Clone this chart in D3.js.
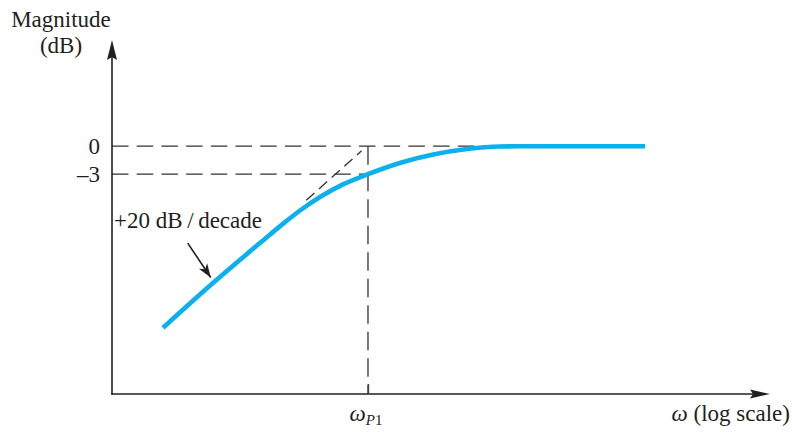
<!DOCTYPE html>
<html>
<head>
<meta charset="utf-8">
<script src="https://cdn.jsdelivr.net/npm/d3@7"></script>
<style>
  html, body { margin: 0; padding: 0; background: #ffffff; }
  svg { display: block; }
  text { font-family: "Liberation Serif", "Times New Roman", serif; fill: #231f20; }
</style>
</head>
<body>
<svg id="chart" width="792" height="432"></svg>
<script>
// ---- data ----
const omega        = [0.1, 0.173, 0.297, 0.394, 0.466, 0.583, 0.755, 1, 1.43, 2.08, 3.04, 4.40, 6.17, 22.5];
const magnitudeDb  = [-19.5, -14.8, -10.4, -8.15, -6.9, -5.45, -4.1, -3.0, -1.8, -0.89, -0.3, -0.03, 0, 0];
const asymptoteOmega = [0.5, 0.93];
const asymptoteDb    = [-5.8, -0.5];
const yTickValues = [0, -3];
const yTickLabels = ["0", "\u20133"];
const poleOmega = 1;
const zeroLineEndOmega = 4.4;
const slopeLabel = "+20 dB\u2009/\u2009decade";
const arrowTail = [0.132, -10.4];
const arrowTip  = [0.171, -14.1];

// ---- layout ----
const W = 792, H = 432;
const svg = d3.select("#chart");
svg.append("rect").attr("width", W).attr("height", H).attr("fill", "#fff");

const x = d3.scaleLog().domain([0.0564, 89.4]).range([112, 768]);
const y = d3.scaleLinear().domain([-26.6, 11.4]).range([394, 40]);

const ink = "#231f20";
const blue = "#0bb0ee";
const [x0, x1] = x.range();
const [yBottom, yTop] = y.range();

// dashed guide lines
const dashG = svg.append("g").attr("stroke", "#333").attr("stroke-width", 1.3).attr("fill", "none");
dashG.append("line")
  .attr("x1", x0).attr("x2", x(zeroLineEndOmega))
  .attr("y1", y(0)).attr("y2", y(0))
  .attr("stroke-dasharray", "16.5,8.2");
dashG.append("line")
  .attr("x1", x0).attr("x2", x(poleOmega))
  .attr("y1", y(-3)).attr("y2", y(-3))
  .attr("stroke-dasharray", "16.5,8.2");
dashG.append("line")
  .attr("x1", x(poleOmega)).attr("x2", x(poleOmega))
  .attr("y1", y(0)).attr("y2", yBottom)
  .attr("stroke-dasharray", "18.5,8");
dashG.append("line")
  .attr("x1", x(asymptoteOmega[0])).attr("x2", x(asymptoteOmega[1]))
  .attr("y1", y(asymptoteDb[0])).attr("y2", y(asymptoteDb[1]))
  .attr("stroke-dasharray", "11,6");

// response curve
const pts = omega.map((w, i) => [w, magnitudeDb[i]]);
const line = d3.line().x(d => x(d[0])).y(d => y(d[1])).curve(d3.curveMonotoneX);
svg.append("path").datum(pts)
  .attr("d", line)
  .attr("fill", "none")
  .attr("stroke", blue)
  .attr("stroke-width", 4.6)
  .attr("stroke-linecap", "butt");

// axes lines
svg.append("line").attr("x1", x0).attr("x2", x0).attr("y1", yBottom + 0.8).attr("y2", yTop + 10)
  .attr("stroke", ink).attr("stroke-width", 1.6);
svg.append("line").attr("x1", x0 - 0.8).attr("x2", x1 - 10).attr("y1", yBottom).attr("y2", yBottom)
  .attr("stroke", ink).attr("stroke-width", 1.6);
// arrow heads
svg.append("path")
  .attr("d", `M${x0},${yTop} L${x0 + 5},${yTop + 20} L${x0},${yTop + 17} L${x0 - 5},${yTop + 20} Z`)
  .attr("fill", ink);
svg.append("path")
  .attr("d", `M${x1 + 2},${yBottom} L${x1 - 18},${yBottom - 4.5} L${x1 - 15},${yBottom} L${x1 - 18},${yBottom + 4.5} Z`)
  .attr("fill", ink);

// y-axis tick labels via d3 axis
const yAxis = d3.axisLeft(y).tickValues(yTickValues)
  .tickFormat((d, i) => yTickLabels[i]).tickSize(0).tickPadding(12);
const gy = svg.append("g").attr("transform", `translate(${x0},0)`).call(yAxis);
gy.select(".domain").remove();
gy.selectAll("text").attr("font-family", "Liberation Serif, serif").attr("font-size", 23).attr("fill", ink);

// x-axis tick at the pole
const xAxis = d3.axisBottom(x).tickValues([poleOmega]).tickSizeInner(-10).tickSizeOuter(0).tickFormat("");
const gx = svg.append("g").attr("transform", `translate(0,${yBottom})`).call(xAxis);
gx.select(".domain").remove();
gx.selectAll(".tick line").attr("stroke", "#444").attr("stroke-width", 1.4);

// pole label
const pl = svg.append("text").attr("x", x(poleOmega) - 2).attr("y", 421)
  .attr("text-anchor", "middle").attr("font-size", 23);
pl.append("tspan").attr("font-style", "italic").text("\u03c9");
pl.append("tspan").attr("font-style", "italic").attr("font-size", 15).attr("dy", 4).text("P");
pl.append("tspan").attr("font-size", 15).text("1");

// x axis title
const xt = svg.append("text").attr("x", 790).attr("y", 421).attr("text-anchor", "end").attr("font-size", 23);
xt.append("tspan").attr("font-style", "italic").text("\u03c9");
xt.append("tspan").text(" (log scale)");

// y axis title
svg.append("text").attr("x", 61).attr("y", 27).attr("text-anchor", "middle").attr("font-size", 23).text("Magnitude");
svg.append("text").attr("x", 61).attr("y", 53).attr("text-anchor", "middle").attr("font-size", 23).text("(dB)");

// slope annotation
svg.append("text").attr("x", 114).attr("y", 228).attr("font-size", 23).text(slopeLabel);
const ax1 = x(arrowTail[0]), ay1 = y(arrowTail[1]);
const ax2 = x(arrowTip[0]), ay2 = y(arrowTip[1]);
svg.append("line").attr("x1", ax1).attr("y1", ay1).attr("x2", ax2).attr("y2", ay2)
  .attr("stroke", ink).attr("stroke-width", 1.6);
const ang = Math.atan2(ay2 - ay1, ax2 - ax1) * 180 / Math.PI;
svg.append("path")
  .attr("d", "M0,0 L-14,-5 L-10,0 L-14,5 Z")
  .attr("transform", `translate(${ax2},${ay2}) rotate(${ang})`)
  .attr("fill", ink);
</script>
</body>
</html>
